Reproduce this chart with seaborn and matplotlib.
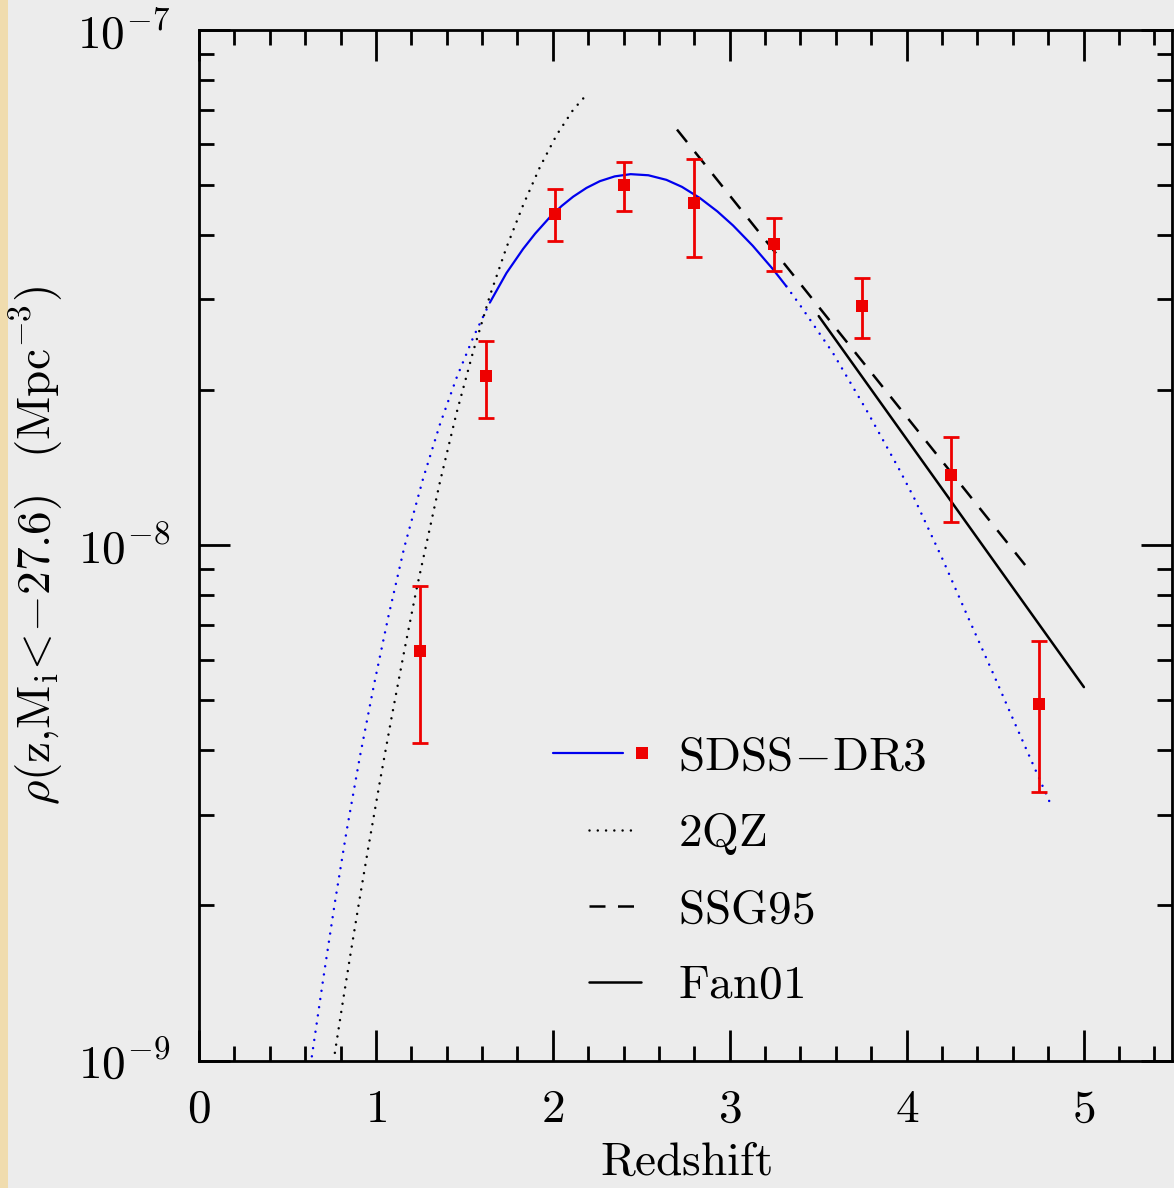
import numpy as np
import pandas as pd
import seaborn as sns
import matplotlib
matplotlib.use("Agg")
import matplotlib.pyplot as plt
from matplotlib.lines import Line2D
from matplotlib.legend_handler import HandlerBase
from matplotlib.ticker import FixedLocator, MultipleLocator, LogLocator, FuncFormatter, NullFormatter
from matplotlib.patches import Rectangle

# ---------------- data ----------------
# SDSS-DR3 binned space densities
z_pts = [1.25, 1.625, 2.01, 2.40, 2.80, 3.25, 3.75, 4.25, 4.75]
rho_pts = [6.245e-9, 2.130e-8, 4.402e-8, 5.003e-8, 4.622e-8, 3.843e-8, 2.917e-8, 1.369e-8, 4.920e-9]
rho_hi = [8.347e-9, 2.491e-8, 4.908e-8, 5.543e-8, 5.618e-8, 4.310e-8, 3.306e-8, 1.624e-8, 6.521e-9]
rho_lo = [4.126e-9, 1.767e-8, 3.901e-8, 4.459e-8, 3.632e-8, 3.401e-8, 2.529e-8, 1.108e-8, 3.323e-9]

# SDSS-DR3 model curve
z_sdss = [0.638, 0.702, 0.768, 0.834, 0.91, 0.991, 1.07, 1.16, 1.267, 1.362, 1.456,
          1.55, 1.644, 1.738, 1.832, 1.90, 1.983, 2.05, 2.115, 2.19, 2.266, 2.35, 2.44,
          2.54, 2.642, 2.73, 2.83, 2.93, 3.019, 3.13, 3.245, 3.32, 3.395, 3.584, 3.772,
          3.96, 4.045, 4.205, 4.337, 4.488, 4.62, 4.808]
rho_sdss = [1.019e-9, 1.438e-9, 2.025e-9, 2.785e-9, 3.897e-9, 5.399e-9, 7.262e-9,
            9.897e-9, 1.348e-8, 1.717e-8, 2.114e-8, 2.532e-8, 2.958e-8, 3.376e-8,
            3.760e-8, 4.026e-8, 4.332e-8, 4.556e-8, 4.749e-8, 4.938e-8, 5.090e-8,
            5.200e-8, 5.252e-8, 5.226e-8, 5.120e-8, 4.962e-8, 4.724e-8, 4.447e-8,
            4.175e-8, 3.814e-8, 3.432e-8, 3.182e-8, 2.933e-8, 2.360e-8, 1.832e-8,
            1.400e-8, 1.230e-8, 9.365e-9, 7.380e-9, 5.649e-9, 4.446e-9, 3.177e-9]
z_solid_min, z_solid_max = 1.644, 3.32

# 2QZ
z_2qz = [0.768, 0.815, 0.858, 0.91, 0.959, 1.023, 1.089, 1.16, 1.229, 1.362, 1.456,
         1.55, 1.644, 1.738, 1.832, 1.927, 2.021, 2.115, 2.20]
rho_2qz = [1.035e-9, 1.313e-9, 1.622e-9, 2.080e-9, 2.613e-9, 3.487e-9, 4.640e-9,
           6.230e-9, 8.200e-9, 1.327e-8, 1.807e-8, 2.379e-8, 3.049e-8, 3.785e-8,
           4.572e-8, 5.420e-8, 6.252e-8, 7.003e-8, 7.553e-8]

# SSG95
z_ssg = [2.702, 4.686]
rho_ssg = [6.41e-8, 9.01e-9]

# Fan01
z_fan = [3.503, 5.002]
rho_fan = [2.785e-8, 5.306e-9]

legend_labels = [r"$\mathrm{SDSS}\!-\!\mathrm{DR3}$", r"$\mathrm{2QZ}$",
                 r"$\mathrm{SSG95}$", r"$\mathrm{Fan01}$"]
x_ticks = [0, 1, 2, 3, 4, 5]

# ---------------- style ----------------
BG = "#ececec"
RED = "#ee0000"
BLUE = "#0000ee"
FS = 34

sns.set_style("ticks")
plt.rcParams.update({
    "mathtext.fontset": "cm",
    "font.family": ["DejaVu Serif"],
    "axes.unicode_minus": True,
    "text.color": "black",
    "axes.labelcolor": "black",
})

DOT = (0, (0.01, 3.3))
sty_blue_solid = dict(color=BLUE, lw=1.6, linestyle="-")
sty_blue_dot = dict(color=BLUE, lw=1.8, linestyle=DOT, dash_capstyle="round")
sty_2qz = dict(color="black", lw=1.8, linestyle=DOT, dash_capstyle="round")
sty_ssg = dict(color="black", lw=1.8, linestyle=(0, (6.4, 5.0)), dash_capstyle="butt")
sty_fan = dict(color="black", lw=1.8, linestyle="-")

fig = plt.figure(figsize=(11.74, 11.88), dpi=100, facecolor=BG)
fig.patches.append(Rectangle((0, 0), 8 / 1174, 1, transform=fig.transFigure,
                             facecolor="#f0dcae", edgecolor="none", zorder=-5))
ax = fig.add_axes([0.1695, 0.1073, 0.8288, 0.8674])
ax.set_facecolor(BG)
ax.set_yscale("log")

sd = pd.DataFrame({"z": z_sdss, "rho": rho_sdss})
low = sd[sd.z <= z_solid_min]
mid = sd[(sd.z >= z_solid_min) & (sd.z <= z_solid_max)]
high = sd[sd.z >= z_solid_max]
for part, sty in [(low, sty_blue_dot), (mid, sty_blue_solid), (high, sty_blue_dot)]:
    sns.lineplot(data=part, x="z", y="rho", ax=ax, estimator=None, sort=False, **sty)

sns.lineplot(x=z_2qz, y=rho_2qz, ax=ax, estimator=None, sort=False, **sty_2qz)
sns.lineplot(x=z_ssg, y=rho_ssg, ax=ax, estimator=None, sort=False, **sty_ssg)
sns.lineplot(x=z_fan, y=rho_fan, ax=ax, estimator=None, sort=False, **sty_fan)

pts = np.array(rho_pts)
yerr = [pts - np.array(rho_lo), np.array(rho_hi) - pts]
ax.errorbar(z_pts, rho_pts, yerr=yerr, fmt="none", ecolor=RED, elinewidth=2.0,
            capsize=6, capthick=2.0, zorder=5)
sns.scatterplot(x=z_pts, y=rho_pts, ax=ax, marker="s", s=80, color=RED,
                linewidth=0, zorder=6)

ax.set_xlim(0, 5.5)
ax.set_ylim(1e-9, 1e-7)
ax.xaxis.set_major_locator(FixedLocator(x_ticks))
ax.xaxis.set_minor_locator(MultipleLocator(0.2))
ax.xaxis.set_major_formatter(FuncFormatter(lambda v, p: r"$%d$" % round(v)))
ax.yaxis.set_major_locator(LogLocator(base=10, numticks=10))
ax.yaxis.set_minor_locator(LogLocator(base=10, subs=np.arange(2, 10), numticks=20))
ax.yaxis.set_major_formatter(FuncFormatter(lambda v, p: r"$10^{%d}$" % round(np.log10(v))))
ax.yaxis.set_minor_formatter(NullFormatter())

ax.tick_params(which="both", direction="in", top=True, right=True, width=2.0,
               color="black", labelcolor="black")
ax.tick_params(which="major", length=22.5, labelsize=FS)
ax.tick_params(axis="x", which="major", pad=19)
ax.tick_params(axis="y", which="major", pad=21)
ax.tick_params(which="minor", length=11)
for s in ax.spines.values():
    s.set_linewidth(2.0)
    s.set_color("black")
    s.set_visible(True)

ax.set_xlabel(r"$\mathrm{Redshift}$", fontsize=FS, labelpad=5, color="black")
ax.set_ylabel(r"$\rho(\mathrm{z{,}M_i}\!<\!{-}27.6)\;\;\;(\mathrm{Mpc^{-3}})$",
              fontsize=FS, labelpad=8, color="black")


class SegHandler(HandlerBase):
    def __init__(self, sty, f0, f1, mark_at=None):
        super().__init__()
        self.sty, self.f0, self.f1, self.mark_at = sty, f0, f1, mark_at

    def create_artists(self, legend, orig, xd, yd, w, h, fs, trans):
        y = h / 2 - yd
        arts = [Line2D([-xd + self.f0 * w, -xd + self.f1 * w], [y, y], transform=trans, **self.sty)]
        if self.mark_at is not None:
            arts.append(Line2D([-xd + self.mark_at * w], [y], marker="s", ms=9, mew=0,
                               color=RED, linestyle="none", transform=trans))
        return arts


handles = [Line2D([], []) for _ in range(4)]
hmap = {
    handles[0]: SegHandler(sty_blue_solid, 0.0, 0.72, mark_at=0.92),
    handles[1]: SegHandler(sty_2qz, 0.37, 0.88),
    handles[2]: SegHandler(sty_ssg, 0.37, 0.88),
    handles[3]: SegHandler(sty_fan, 0.37, 0.91),
}
leg = ax.legend(handles, legend_labels, handler_map=hmap, loc="center left",
                bbox_to_anchor=(0.364, 0.1836), frameon=False, fontsize=FS,
                handlelength=2.05, handletextpad=0.6, labelspacing=0.64,
                borderpad=0, borderaxespad=0)
for t in leg.get_texts():
    t.set_color("black")

fig.savefig("out.png", dpi=100, facecolor=BG)
